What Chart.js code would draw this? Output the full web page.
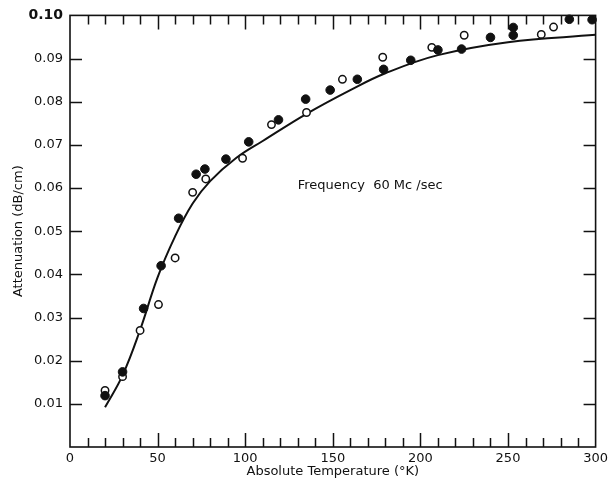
<!DOCTYPE html>
<html>
<head>
<meta charset="utf-8">
<script src="https://cdn.jsdelivr.net/npm/chart.js@4/dist/chart.umd.min.js"></script>
<style>
  body { margin: 0; background: #fff; }
  canvas { display: block; }
</style>
</head>
<body>
<canvas id="chart" width="612" height="481"></canvas>
<script>
// filled circles
const filledTemp = [20, 30, 42, 52, 62, 72, 77, 89, 102, 119, 134.5, 148.5, 164, 179, 194.5, 210, 223.5, 240, 253, 253, 285, 298];
const filledAtt = [0.0119, 0.0174, 0.0321, 0.0420, 0.0530, 0.0632, 0.0644, 0.0667, 0.0707, 0.0758, 0.0806, 0.0827, 0.0852, 0.0875, 0.0896, 0.0920, 0.0922, 0.0949, 0.0972, 0.0954, 0.0991, 0.0990];

// open circles
const openTemp = [20, 30, 40, 50.5, 60, 70, 77.5, 98.5, 115, 135, 155.5, 178.5, 206.5, 225, 269, 276];
const openAtt = [0.0131, 0.0163, 0.0270, 0.0330, 0.0438, 0.0590, 0.0621, 0.0669, 0.0747, 0.0775, 0.0852, 0.0903, 0.0926, 0.0954, 0.0956, 0.0973];

// smooth curve through the data
const curveTemp = [20, 30, 40, 50, 60, 70, 80, 95, 110, 135, 160, 180, 210, 250, 300];
const curveAtt = [0.0092, 0.0166, 0.0271, 0.0393, 0.0488, 0.0564, 0.0616, 0.0670, 0.0709, 0.0772, 0.0827, 0.0866, 0.0908, 0.0938, 0.0955];

// small tick marks along top / bottom frame
const xTickMarks = [10, 20, 30, 40, 50, 60, 70, 80, 90, 100, 110, 120, 130, 140, 150, 160, 170, 180, 190, 200, 210, 220, 230, 240, 250, 260, 270, 280, 290];
const yTickMarks = [0.01, 0.02, 0.03, 0.04, 0.05, 0.06, 0.07, 0.08, 0.09];

const note = 'Frequency  60 Mc /sec';
const noteAt = {x: 130, y: 0.0605};

const font = '"DejaVu Sans", sans-serif';
const ink = '#111';

const pts = (xs, ys) => xs.map((v, i) => ({x: v, y: ys[i]}));

const frameTicks = {
  id: 'frameTicks',
  beforeDatasetsDraw(chart) {
    const {ctx, chartArea: a, scales: {x, y}} = chart;
    ctx.save();
    ctx.strokeStyle = ink;
    ctx.lineWidth = 1.6;
    ctx.strokeRect(a.left, a.top, a.right - a.left, a.bottom - a.top);

    ctx.lineWidth = 1.5;
    ctx.beginPath();
    xTickMarks.forEach(v => {
      const px = Math.round(x.getPixelForValue(v)) + 0.5;
      const len = v % 50 === 0 ? 14 : 9;
      ctx.moveTo(px, a.top); ctx.lineTo(px, a.top + len);
      ctx.moveTo(px, a.bottom); ctx.lineTo(px, a.bottom - len);
    });
    yTickMarks.forEach(v => {
      const py = Math.round(y.getPixelForValue(v)) + 0.5;
      ctx.moveTo(a.left, py); ctx.lineTo(a.left + 12, py);
      ctx.moveTo(a.right, py); ctx.lineTo(a.right - 12, py);
    });
    ctx.stroke();

    ctx.fillStyle = ink;
    ctx.font = '13px ' + font;
    ctx.textAlign = 'left';
    ctx.textBaseline = 'middle';
    ctx.fillText(note, x.getPixelForValue(noteAt.x), y.getPixelForValue(noteAt.y));
    ctx.restore();
  }
};

new Chart(document.getElementById('chart'), {
  type: 'scatter',
  data: {
    datasets: [
      {
        label: 'filled',
        data: pts(filledTemp, filledAtt),
        pointRadius: 4.3,
        pointBackgroundColor: ink,
        pointBorderColor: ink,
        pointBorderWidth: 1,
        clip: false,
        order: 1
      },
      {
        label: 'open',
        data: pts(openTemp, openAtt),
        pointRadius: 3.7,
        pointBackgroundColor: '#fff',
        pointBorderColor: ink,
        pointBorderWidth: 1.5,
        clip: false,
        order: 2
      },
      {
        label: 'curve',
        data: pts(curveTemp, curveAtt),
        showLine: true,
        borderColor: ink,
        borderWidth: 2,
        pointRadius: 0,
        tension: 0.4,
        order: 3
      }
    ]
  },
  options: {
    responsive: false,
    animation: false,
    layout: {padding: {left: 9, right: 14, top: 15, bottom: 0}},
    plugins: {legend: {display: false}, tooltip: {enabled: false}},
    scales: {
      x: {
        type: 'linear',
        min: 0,
        max: 300,
        grid: {display: false, drawTicks: false},
        border: {display: false},
        ticks: {stepSize: 50, padding: 4, color: ink, font: {family: font, size: 13}, maxRotation: 0},
        title: {display: true, text: 'Absolute Temperature (°K)', color: ink, font: {family: font, size: 13}, padding: {top: 0, bottom: 2}},
        afterFit(scale) { scale.height = 34; }
      },
      y: {
        type: 'linear',
        min: 0,
        max: 0.1,
        grid: {display: false, drawTicks: false},
        border: {display: false},
        ticks: {
          stepSize: 0.01,
          padding: 7,
          color: ink,
          font: ctx => (ctx.tick && Math.abs(ctx.tick.value - 0.1) < 1e-6)
            ? {family: font, size: 14, weight: 'bold'}
            : {family: font, size: 13},
          callback: v => v < 1e-6 ? '' : v.toFixed(2)
        },
        title: {display: true, text: 'Attenuation (dB/cm)', color: ink, font: {family: font, size: 13}, padding: {top: 2, bottom: 0}},
        afterFit(scale) { scale.width = 61; }
      }
    }
  },
  plugins: [frameTicks]
});
</script>
</body>
</html>
